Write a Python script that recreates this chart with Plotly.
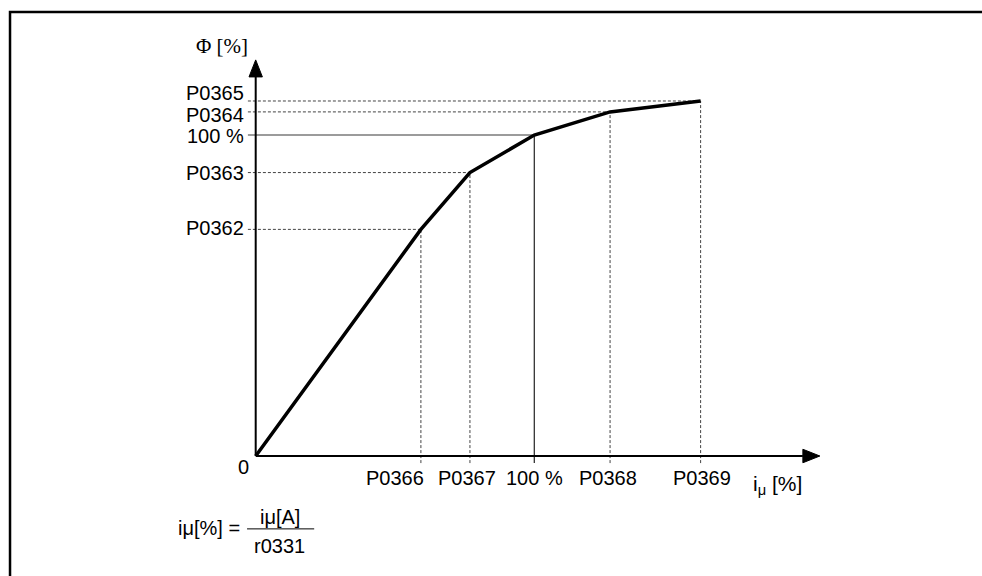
import plotly.graph_objects as go

# ---- data (percent units) ----
x_labels = ["P0366", "P0367", "100 %", "P0368", "P0369"]
x_values = [59.3, 76.9, 100.0, 127.2, 159.7]
y_labels = ["P0362", "P0363", "100 %", "P0364", "P0365"]
y_values = [70.6, 88.3, 100.0, 107.2, 110.6]

curve_x = [0.0] + x_values
curve_y = [0.0] + y_values

# ---- layout constants ----
X_RANGE = [-91.78, 260.70]
Y_RANGE = [-37.38, 142.06]
X_AXIS_END, X_TIP, X_HALF = 196.4, 202.5, 2.1
Y_AXIS_END, Y_TIP, Y_HALF = 118.1, 123.4, 2.4
H_START = -2.8   # where horizontal guides start (left of y axis)
V_END = -2.2     # where vertical guides end (below x axis)
FONT = "Liberation Sans, Arial, sans-serif"
FS = 20

x_label_xshift = [-26, -3, 0, -2, 1]
y_label_yshift = [1, 0, -1, -3, 8]

fig = go.Figure()

shapes = []
# guide lines
for lbl, xv, yv in zip(x_labels, x_values, y_values):
    solid = lbl == "100 %"
    shapes.append(dict(type="line", x0=H_START, x1=xv, y0=yv, y1=yv, xref="x", yref="y",
                       line=dict(color="#7a7a7a" if solid else "#444444",
                                 width=1.6 if solid else 1,
                                 dash="solid" if solid else "3px,2px"), layer="below"))
    shapes.append(dict(type="line", x0=xv, x1=xv, y0=V_END, y1=yv, xref="x", yref="y",
                       line=dict(color="#222222" if solid else "#444444",
                                 width=1.2 if solid else 1,
                                 dash="solid" if solid else "3px,2px"), layer="below"))

# axes
shapes.append(dict(type="line", x0=0, x1=X_AXIS_END, y0=0, y1=0, xref="x", yref="y",
                   line=dict(color="black", width=2)))
shapes.append(dict(type="line", x0=0, x1=0, y0=0, y1=Y_AXIS_END, xref="x", yref="y",
                   line=dict(color="black", width=2)))
shapes.append(dict(type="path", xref="x", yref="y",
                   path=f"M {X_AXIS_END},{-X_HALF} L {X_TIP},0 L {X_AXIS_END},{X_HALF} Z",
                   fillcolor="black", line=dict(color="black", width=1)))
shapes.append(dict(type="path", xref="x", yref="y",
                   path=f"M {-Y_HALF},{Y_AXIS_END} L 0,{Y_TIP} L {Y_HALF},{Y_AXIS_END} Z",
                   fillcolor="black", line=dict(color="black", width=1)))

# frame (top and left)
shapes.append(dict(type="path", xref="paper", yref="paper",
                   path="M 0.0102,0 L 0.0102,0.9792 L 1,0.9792",
                   line=dict(color="black", width=2.5)))

# curve
fig.add_trace(go.Scatter(x=curve_x, y=curve_y, mode="lines",
                         line=dict(color="black", width=3.5), hoverinfo="skip",
                         showlegend=False))

annotations = []
for lbl, xv, xs in zip(x_labels, x_values, x_label_xshift):
    annotations.append(dict(x=xv, y=-7.0, text=lbl, showarrow=False, xref="x", yref="y",
                            xanchor="center", yanchor="middle", xshift=xs,
                            font=dict(family=FONT, size=FS, color="black")))
for lbl, yv, ys in zip(y_labels, y_values, y_label_yshift):
    annotations.append(dict(x=-3.6, y=yv, text=lbl, showarrow=False, xref="x", yref="y",
                            xanchor="right", yanchor="middle", yshift=ys,
                            font=dict(family=FONT, size=FS, color="black")))
annotations.append(dict(x=-4.4, y=-3.3, text="0", showarrow=False, xref="x", yref="y",
                        xanchor="center", yanchor="middle",
                        font=dict(family=FONT, size=FS, color="black")))
annotations.append(dict(x=-12.0, y=127.7, text="Φ [%]", showarrow=False, xref="x", yref="y",
                        xanchor="center", yanchor="middle",
                        font=dict(family="Liberation Serif, Times New Roman, serif", size=21, color="black")))
annotations.append(dict(x=177.8, y=-9.0, text="i<sub>μ</sub> [%]", showarrow=False, xref="x", yref="y",
                        xanchor="left", yanchor="middle",
                        font=dict(family=FONT, size=21, color="black")))
# formula
annotations.append(dict(x=-4.8, y=-22.4, text="iμ[%] =", showarrow=False, xref="x", yref="y",
                        xanchor="right", yanchor="middle",
                        font=dict(family=FONT, size=20, color="black")))
annotations.append(dict(x=8.7, y=-19.0, text="iμ[A]", showarrow=False, xref="x", yref="y",
                        xanchor="center", yanchor="middle",
                        font=dict(family=FONT, size=20, color="black")))
annotations.append(dict(x=8.7, y=-28.0, text="r0331", showarrow=False, xref="x", yref="y",
                        xanchor="center", yanchor="middle",
                        font=dict(family=FONT, size=20, color="black")))
shapes.append(dict(type="line", x0=-3.1, x1=21.0, y0=-22.7, y1=-22.7, xref="x", yref="y",
                   line=dict(color="black", width=1)))

fig.update_layout(
    width=982, height=576,
    margin=dict(l=0, r=0, t=0, b=0),
    paper_bgcolor="white", plot_bgcolor="white",
    xaxis=dict(range=X_RANGE, visible=False, fixedrange=True),
    yaxis=dict(range=Y_RANGE, visible=False, fixedrange=True),
    shapes=shapes, annotations=annotations, showlegend=False,
)

fig.write_html("out.html", config={"displayModeBar": False},
               post_script="document.body.style.margin='0';document.body.style.padding='0';")
